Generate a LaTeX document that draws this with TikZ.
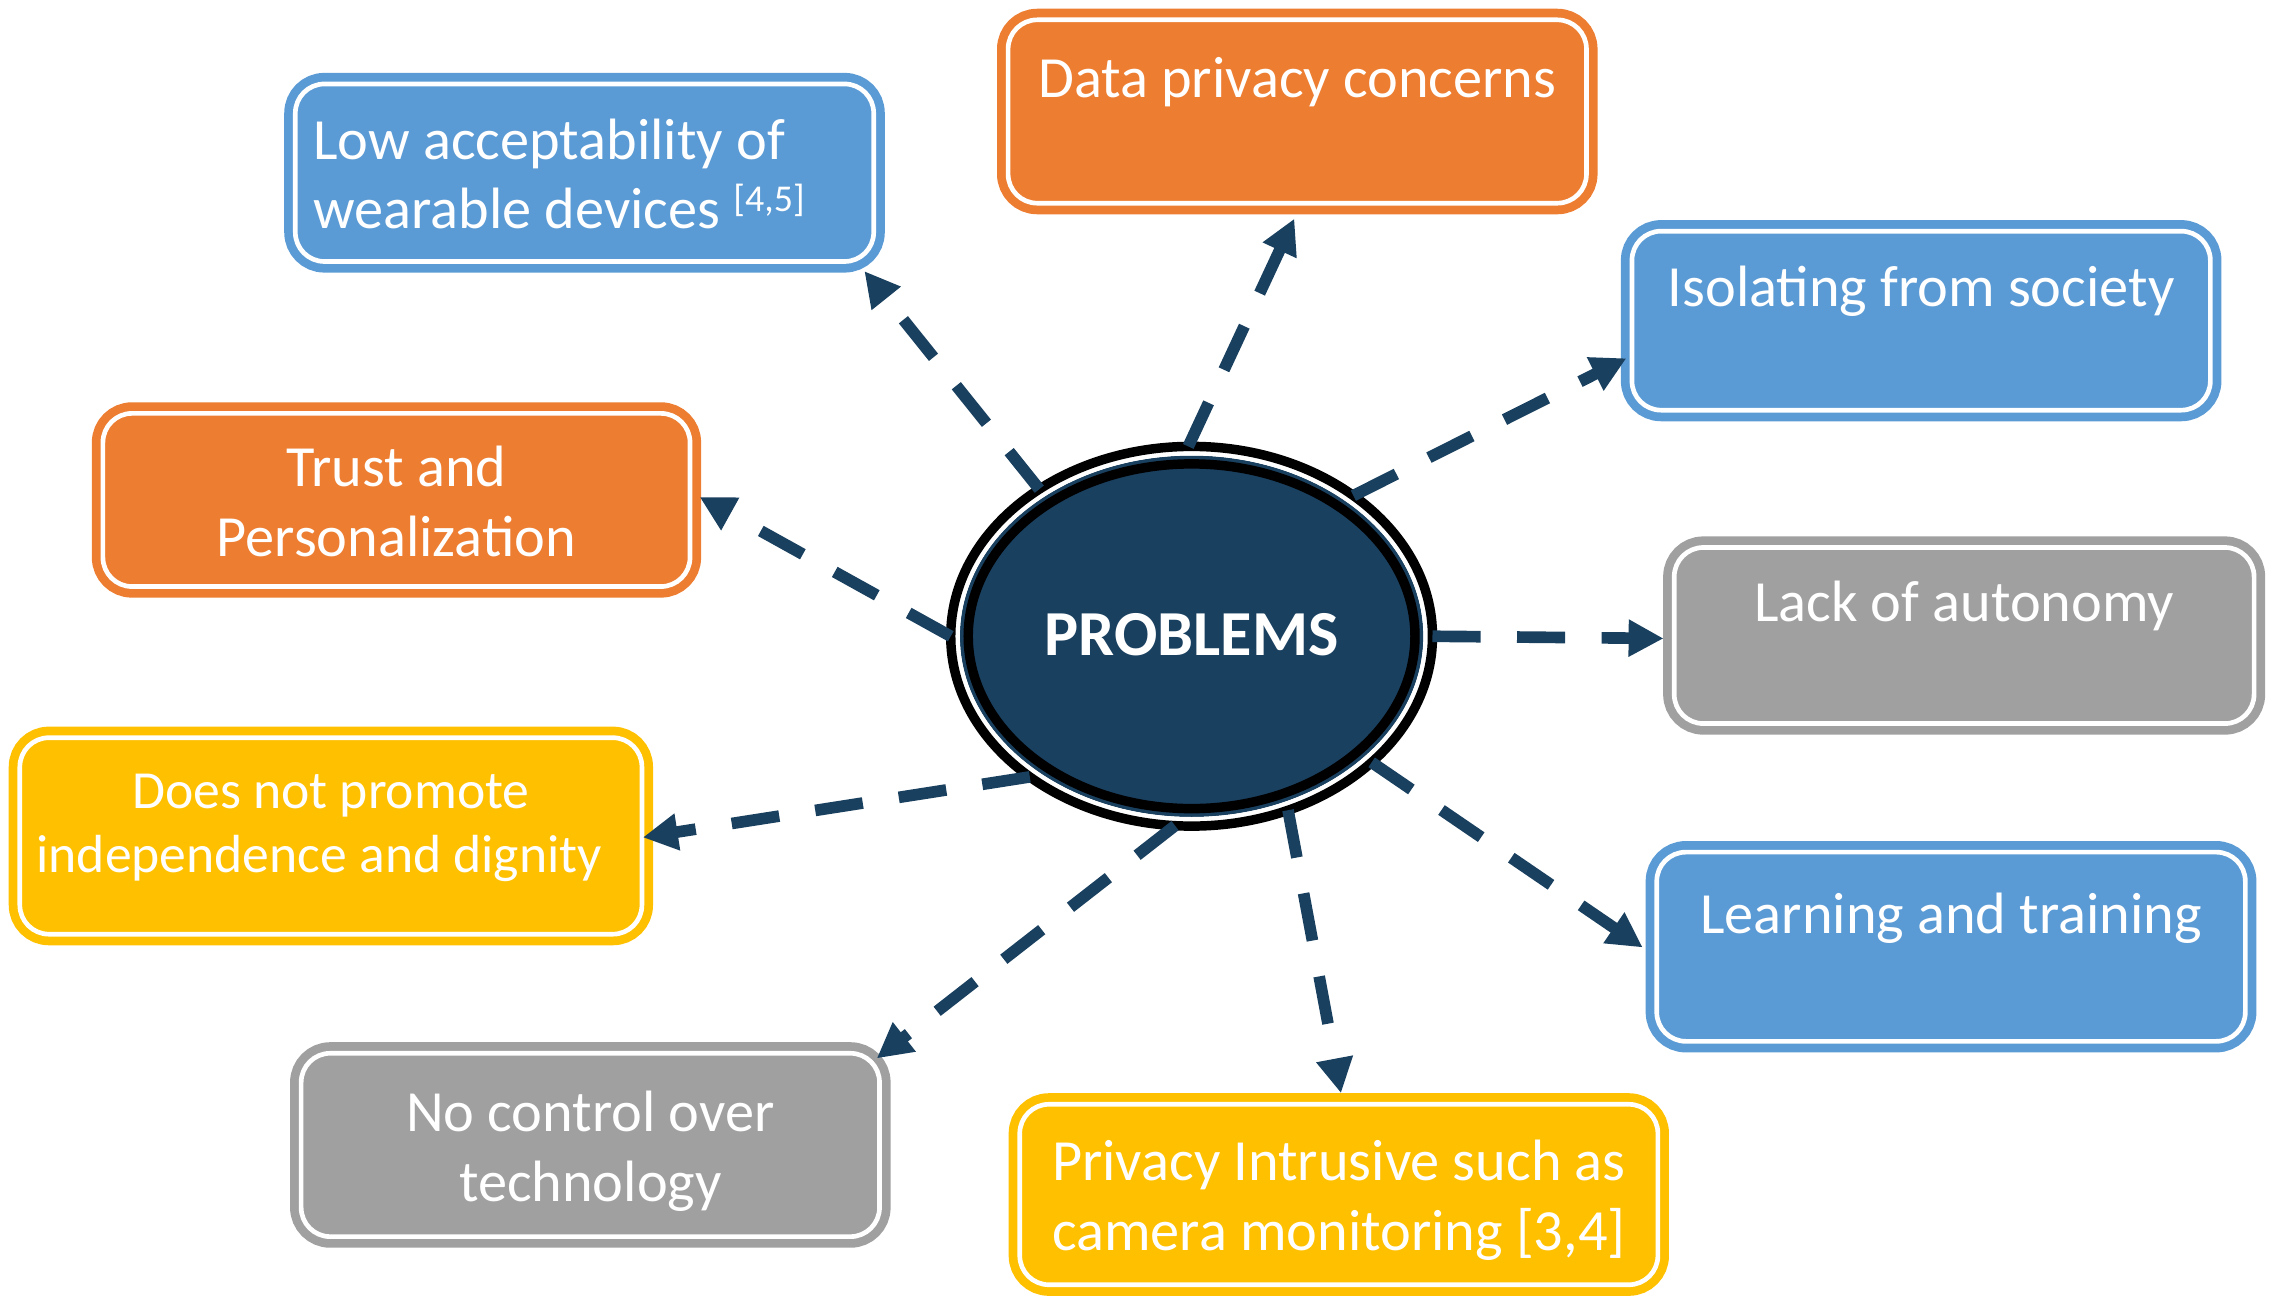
\documentclass[tikz,border=0pt]{standalone}
\usepackage{fontspec}
\setmainfont{Carlito}
\usetikzlibrary{shapes.geometric,arrows.meta,calc}
\definecolor{cblue}{HTML}{5B9BD5}
\definecolor{corange}{HTML}{ED7D31}
\definecolor{cgray}{HTML}{A0A0A0}
\definecolor{cyellow}{HTML}{FFC000}
\definecolor{cnavy}{HTML}{1A4060}
\newcommand\fsmain{\fontsize{40}{48}\selectfont}
\newcommand\fssmall{\fontsize{36.8}{44}\selectfont}
\newcommand\fsbig{\fontsize{44}{50}\selectfont\bfseries}
\newcommand\tstrut{\rule{0pt}{43.6pt}}
\tikzset{
  box/.style={draw=#1, fill=#1, line width=6pt, double=white, double distance=3.2pt,
    rounded corners=20pt, text=white, inner sep=0pt, outer sep=0pt, align=center, font=\fsmain},
  conn/.style={draw=cnavy, line width=8pt, dash pattern=on 33pt off 25pt,
    -{Triangle[length=24pt,width=24pt]}},
}
\begin{document}
\begin{tikzpicture}[x=1pt,y=-1pt]
\useasboundingbox (0,0) rectangle (1569,891.2);

% boxes
\node[box=cblue, minimum width=396.8pt, minimum height=121.8pt, text width=372pt, align=flush left] (low) at (401,118.5)
  {\tstrut Low acceptability of\\\strut wearable devices \raisebox{12pt}{\fontsize{26}{26}\selectfont[4,5]}};
\node[box=corange, minimum width=396.8pt, minimum height=125.8pt] (data) at (890,76.5)
  {\tstrut Data privacy concerns\\\strut};
\node[box=cblue, minimum width=396.8pt, minimum height=122.8pt] (iso) at (1318,220)
  {\tstrut Isolating from society\\\strut};
\node[box=corange, minimum width=402.8pt, minimum height=118.8pt] (trust) at (272,343)
  {\tstrut Trust and\\\strut Personalization};
\node[box=cgray, minimum width=397.8pt, minimum height=120.8pt] (lack) at (1347.5,436)
  {\tstrut Lack of autonomy\\\strut};
\node[box=cyellow, minimum width=426.8pt, minimum height=134.8pt, font=\fssmall] (does) at (227,573.5)
  {\strut Does not promote\\independence and dignity\hspace*{16pt}\rule[-24pt]{0pt}{24pt}};
\node[box=cblue, minimum width=403.8pt, minimum height=129.8pt] (learn) at (1338.5,649.5)
  {\tstrut Learning and training\\\strut};
\node[box=cgray, minimum width=396.8pt, minimum height=125.8pt] (noctrl) at (405,785.5)
  {\tstrut No control over\\\strut technology};
\node[box=cyellow, minimum width=437.8pt, minimum height=123.8pt] (priv) at (918.5,819.5)
  {\tstrut Privacy Intrusive such as\\\strut camera monitoring [3,4]};

% central ellipse
\coordinate (C) at (817.5,436.5);
\fill[cnavy] (C) ellipse [x radius=159, y radius=124];
\draw[black, line width=6.5pt] (C) ellipse [x radius=153.25, y radius=118.25];
\draw[white, line width=3pt] (C) ellipse [x radius=160.5, y radius=125.5];
\node[ellipse, draw=black, line width=6.5pt, minimum width=330.5pt, minimum height=260.5pt,
  inner sep=0pt, outer sep=0pt, text=white, font=\fsbig] (P) at (C) {\raisebox{2pt}{PROBLEMS}};

% connectors
\draw[conn] (P.136.6) -- ($(low.south east)+(-6.4,6.6)$);
\draw[conn] (P.91.1) -- ($(data.south)+(-2,10.6)$);
\draw[conn] (P.41.2) -- ($(iso.west)+(-3.8,25.8)$);
\draw[conn] (P.180) -- ($(trust.east)+(6.6,-2)$);
\draw[conn] (P.0.3) -- ($(lack.west)+(-7.3,2)$);
\draw[conn] (P.221.1) -- ($(does.east)+(0.6,1)$);
\draw[conn] (P.325.4) -- ($(learn.west)+(-9.6,0.5)$);
\draw[conn] (P.265.8) -- ($(noctrl.north east)+(-1.9,3.5)$);
\draw[conn] (P.299) -- ($(priv.north)+(1.5,-7.6)$);
\end{tikzpicture}
\end{document}
